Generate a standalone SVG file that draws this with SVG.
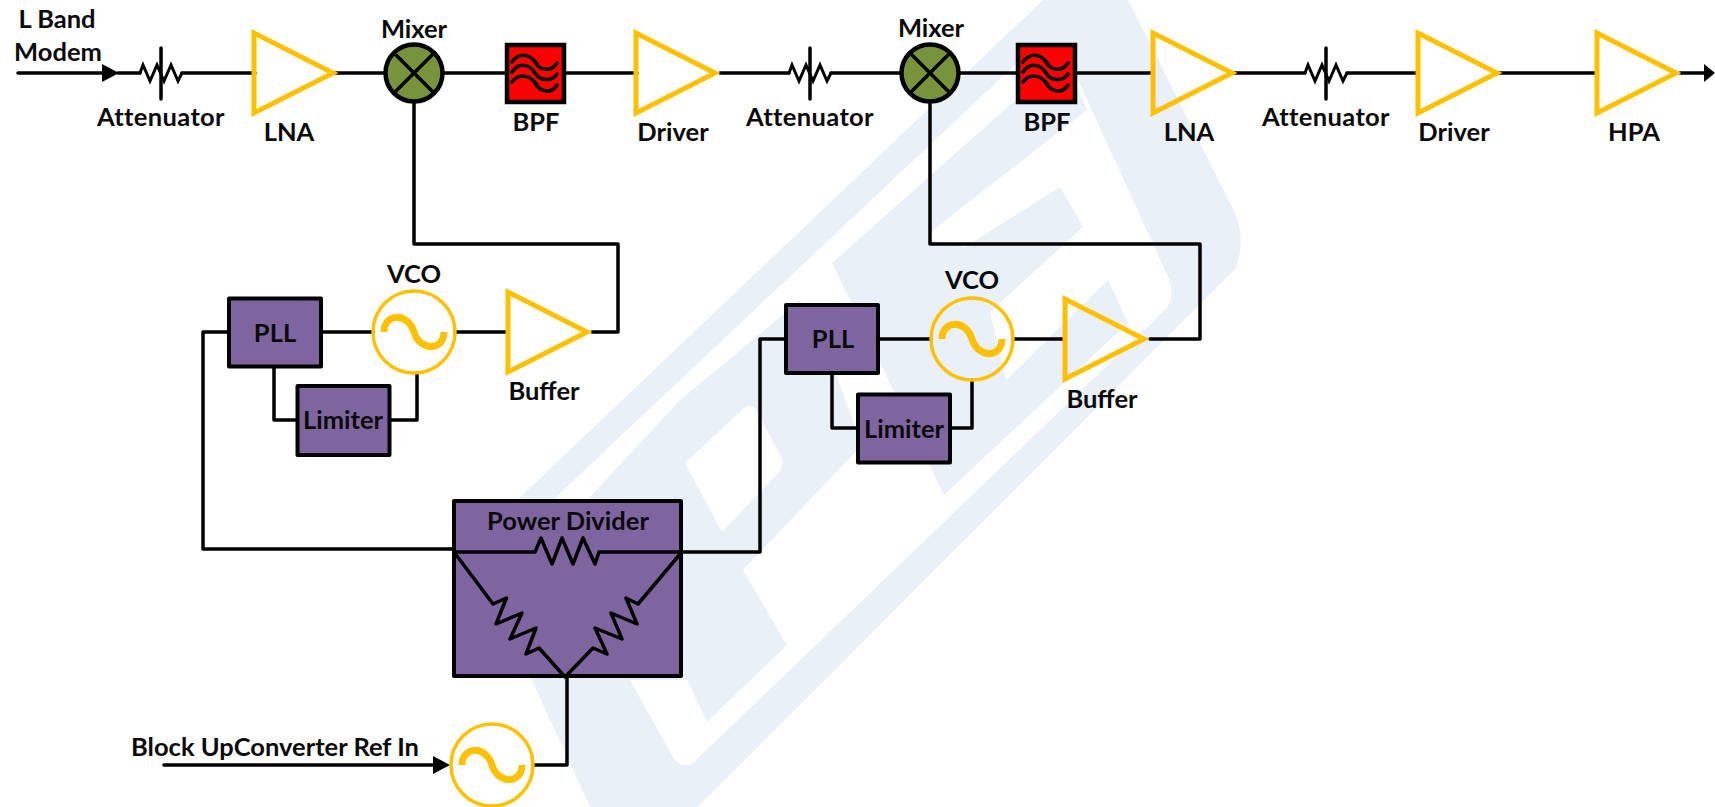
<svg xmlns="http://www.w3.org/2000/svg" width="1715" height="807" viewBox="0 0 1715 807">
<style>
text{font-family:"Lato","Liberation Sans",sans-serif;font-weight:700;font-size:25.5px;fill:#0a0a0a;text-anchor:middle}
.sp{letter-spacing:.35px}
.w{fill:#e9f0f8}
.wh{fill:#fff}
.wire{fill:none;stroke:#000;stroke-width:3.5;stroke-linejoin:round;stroke-linecap:round}
.thin{fill:none;stroke:#000;stroke-width:3;stroke-linejoin:miter;stroke-linecap:round}
.amp{fill:none;stroke:#FFC000;stroke-width:5}
.osc{fill:none;stroke:#FFC000;stroke-width:3.5}
.sine{fill:none;stroke:#FFC000;stroke-width:7}
.mix{fill:#77933C;stroke:#000;stroke-width:4.5}
.bpf{fill:#FF0000;stroke:#000;stroke-width:4.5}
.pur{fill:#7F659F;stroke:#000;stroke-width:4;stroke-linejoin:round}
.head{fill:#000}
</style>
<defs>
<g id="tri"><polygon class="amp" points="0,-40 0,40 79,0"/></g>
<g id="sin"><circle class="osc" r="41"/><path class="sine" d="M-30 0C-30 -19 -6 -20 0 0C6 20 30 19 30 0"/></g>
<g id="atten"><path class="thin" d="M-21 0L-18 -8L-11 8L-4 -8L3 8L10 -8L17 8L21 0"/><path class="wire" d="M0 -25V26"/></g>
<g id="mx"><circle class="mix" r="28.5"/><path class="wire" d="M-20 -20L20 20M20 -20L-20 20"/></g>
<g id="filt"><rect class="bpf" width="57" height="57"/><path class="wire" d="M5 17C11 8 22 8 28 17C32 25 44 28 50 18M5 27C11 18 22 18 28 28C32 35 44 38 50 29M5 37C11 29 22 29 28 38C32 46 44 50 50 40M27 15L30 19M27 36L30 40"/></g>
</defs>
<g id="watermark">
<path class="w" d="M1043 0H1128L1235 213Q1246 240 1236 268L698 807H590L470 545Z"/>
<path class="wh" d="M1020 60L1072 67L1165 270Q1178 295 1165 310L693 763Q680 770 672 755L630 680L556 497Z"/>
<path class="w" d="M832 263L1056 64L1068 67L1087 110L933 230L930 240L965 247L1060 187L1083 227L990 312L1006 380L1108 280L1128 323L944 495Z"/>
<path class="w" d="M800 300L837 377L862 445L743 570L787 645L707 722L687 680L600 680L565 600L590 497L680 400L773 323Z"/>
<path class="wh" d="M685 463L744 408Q752 403 756 410L781 456Q785 466 779 472L722 532Z"/>
</g>
<g id="connectors">
<path class="wire" d="M18 73H105M118 73H140M182 73H255M335 73H386M442 73H505M566 73H637M720 73H789M831 73H902M958 73H1016M1077 73H1153M1235 73H1305M1347 73H1418M1498 73H1597M1680 73H1706"/>
<path class="wire" d="M414 104V244H618V332H592"/>
<path class="wire" d="M930 104V244H1200V339H1150"/>
<path class="wire" d="M322 332H373M455 332H508"/>
<path class="wire" d="M880 339H931M1013 339H1065"/>
<path class="wire" d="M274 368V420H296M391 420H417V373"/>
<path class="wire" d="M832 375V428H856M952 428H972V380"/>
<path class="wire" d="M227 332H203V549H454"/>
<path class="wire" d="M682 552H760V339H784"/>
<path class="wire" d="M567 677V765H533"/>
<path class="wire" d="M164 765H440"/>
<polygon class="head" points="102,64 119,73 102,82"/>
<polygon class="head" points="1704,64 1715,73 1704,82"/>
<polygon class="head" points="433,756 450,765 433,774"/>
</g>
<g id="attenuator1"><use href="#atten" x="161" y="73"/><text class="sp" x="161" y="126">Attenuator</text></g>
<g id="lna1"><use href="#tri" x="254" y="73"/><text x="289" y="141">LNA</text></g>
<g id="mixer1"><use href="#mx" x="414" y="73"/><text x="414" y="38">Mixer</text></g>
<g id="bpf1"><use href="#filt" x="507" y="45"/><text x="536" y="131">BPF</text></g>
<g id="driver1"><use href="#tri" x="636" y="73"/><text x="673" y="141">Driver</text></g>
<g id="attenuator2"><use href="#atten" x="810" y="73"/><text class="sp" x="810" y="126">Attenuator</text></g>
<g id="mixer2"><use href="#mx" x="930" y="73"/><text x="931" y="37">Mixer</text></g>
<g id="bpf2"><use href="#filt" x="1018" y="45"/><text x="1047" y="131">BPF</text></g>
<g id="lna2"><use href="#tri" x="1153" y="73"/><text x="1189" y="141">LNA</text></g>
<g id="attenuator3"><use href="#atten" x="1326" y="73"/><text class="sp" x="1326" y="126">Attenuator</text></g>
<g id="driver2"><use href="#tri" x="1418" y="73"/><text x="1454" y="141">Driver</text></g>
<g id="hpa"><use href="#tri" x="1597" y="73"/><text x="1634" y="141">HPA</text></g>
<g id="input1"><text x="57" y="28">L Band</text><text x="58" y="61">Modem</text></g>
<g id="pll1"><rect class="pur" x="229" y="298.5" width="92" height="68"/><text x="275" y="342">PLL</text></g>
<g id="vco1"><use href="#sin" x="414" y="332"/><text x="414" y="283">VCO</text></g>
<g id="buffer1"><use href="#tri" x="508" y="332"/><text x="544" y="400">Buffer</text></g>
<g id="limiter1"><rect class="pur" x="297.5" y="386" width="92" height="69"/><text x="343" y="429">Limiter</text></g>
<g id="pll2"><rect class="pur" x="786" y="305" width="92" height="68"/><text x="833" y="348">PLL</text></g>
<g id="vco2"><use href="#sin" x="972" y="339"/><text x="972" y="289">VCO</text></g>
<g id="buffer2"><use href="#tri" x="1065" y="339"/><text x="1102" y="408">Buffer</text></g>
<g id="limiter2"><rect class="pur" x="858" y="394.5" width="92" height="68"/><text x="904" y="438">Limiter</text></g>
<g id="powerdivider">
<rect class="pur" x="454" y="501" width="227" height="175"/>
<text x="568" y="530">Power Divider</text>
<path class="wire" d="M454 552H535L541 538L552 564L562 538L573 564L583 538L595 564L599 552H682"/>
<path class="wire" d="M454 552L493 604L506.5 598L496 624L522 613L510 639L536 628L526 654L539 648L565 677L593 648L607 654L595 628L622 639L611 613L637 624L626 598L638 604L681 553"/>
</g>
<g id="refsource"><use href="#sin" x="492" y="765"/><text x="275" y="756">Block UpConverter Ref In</text></g>
</svg>
